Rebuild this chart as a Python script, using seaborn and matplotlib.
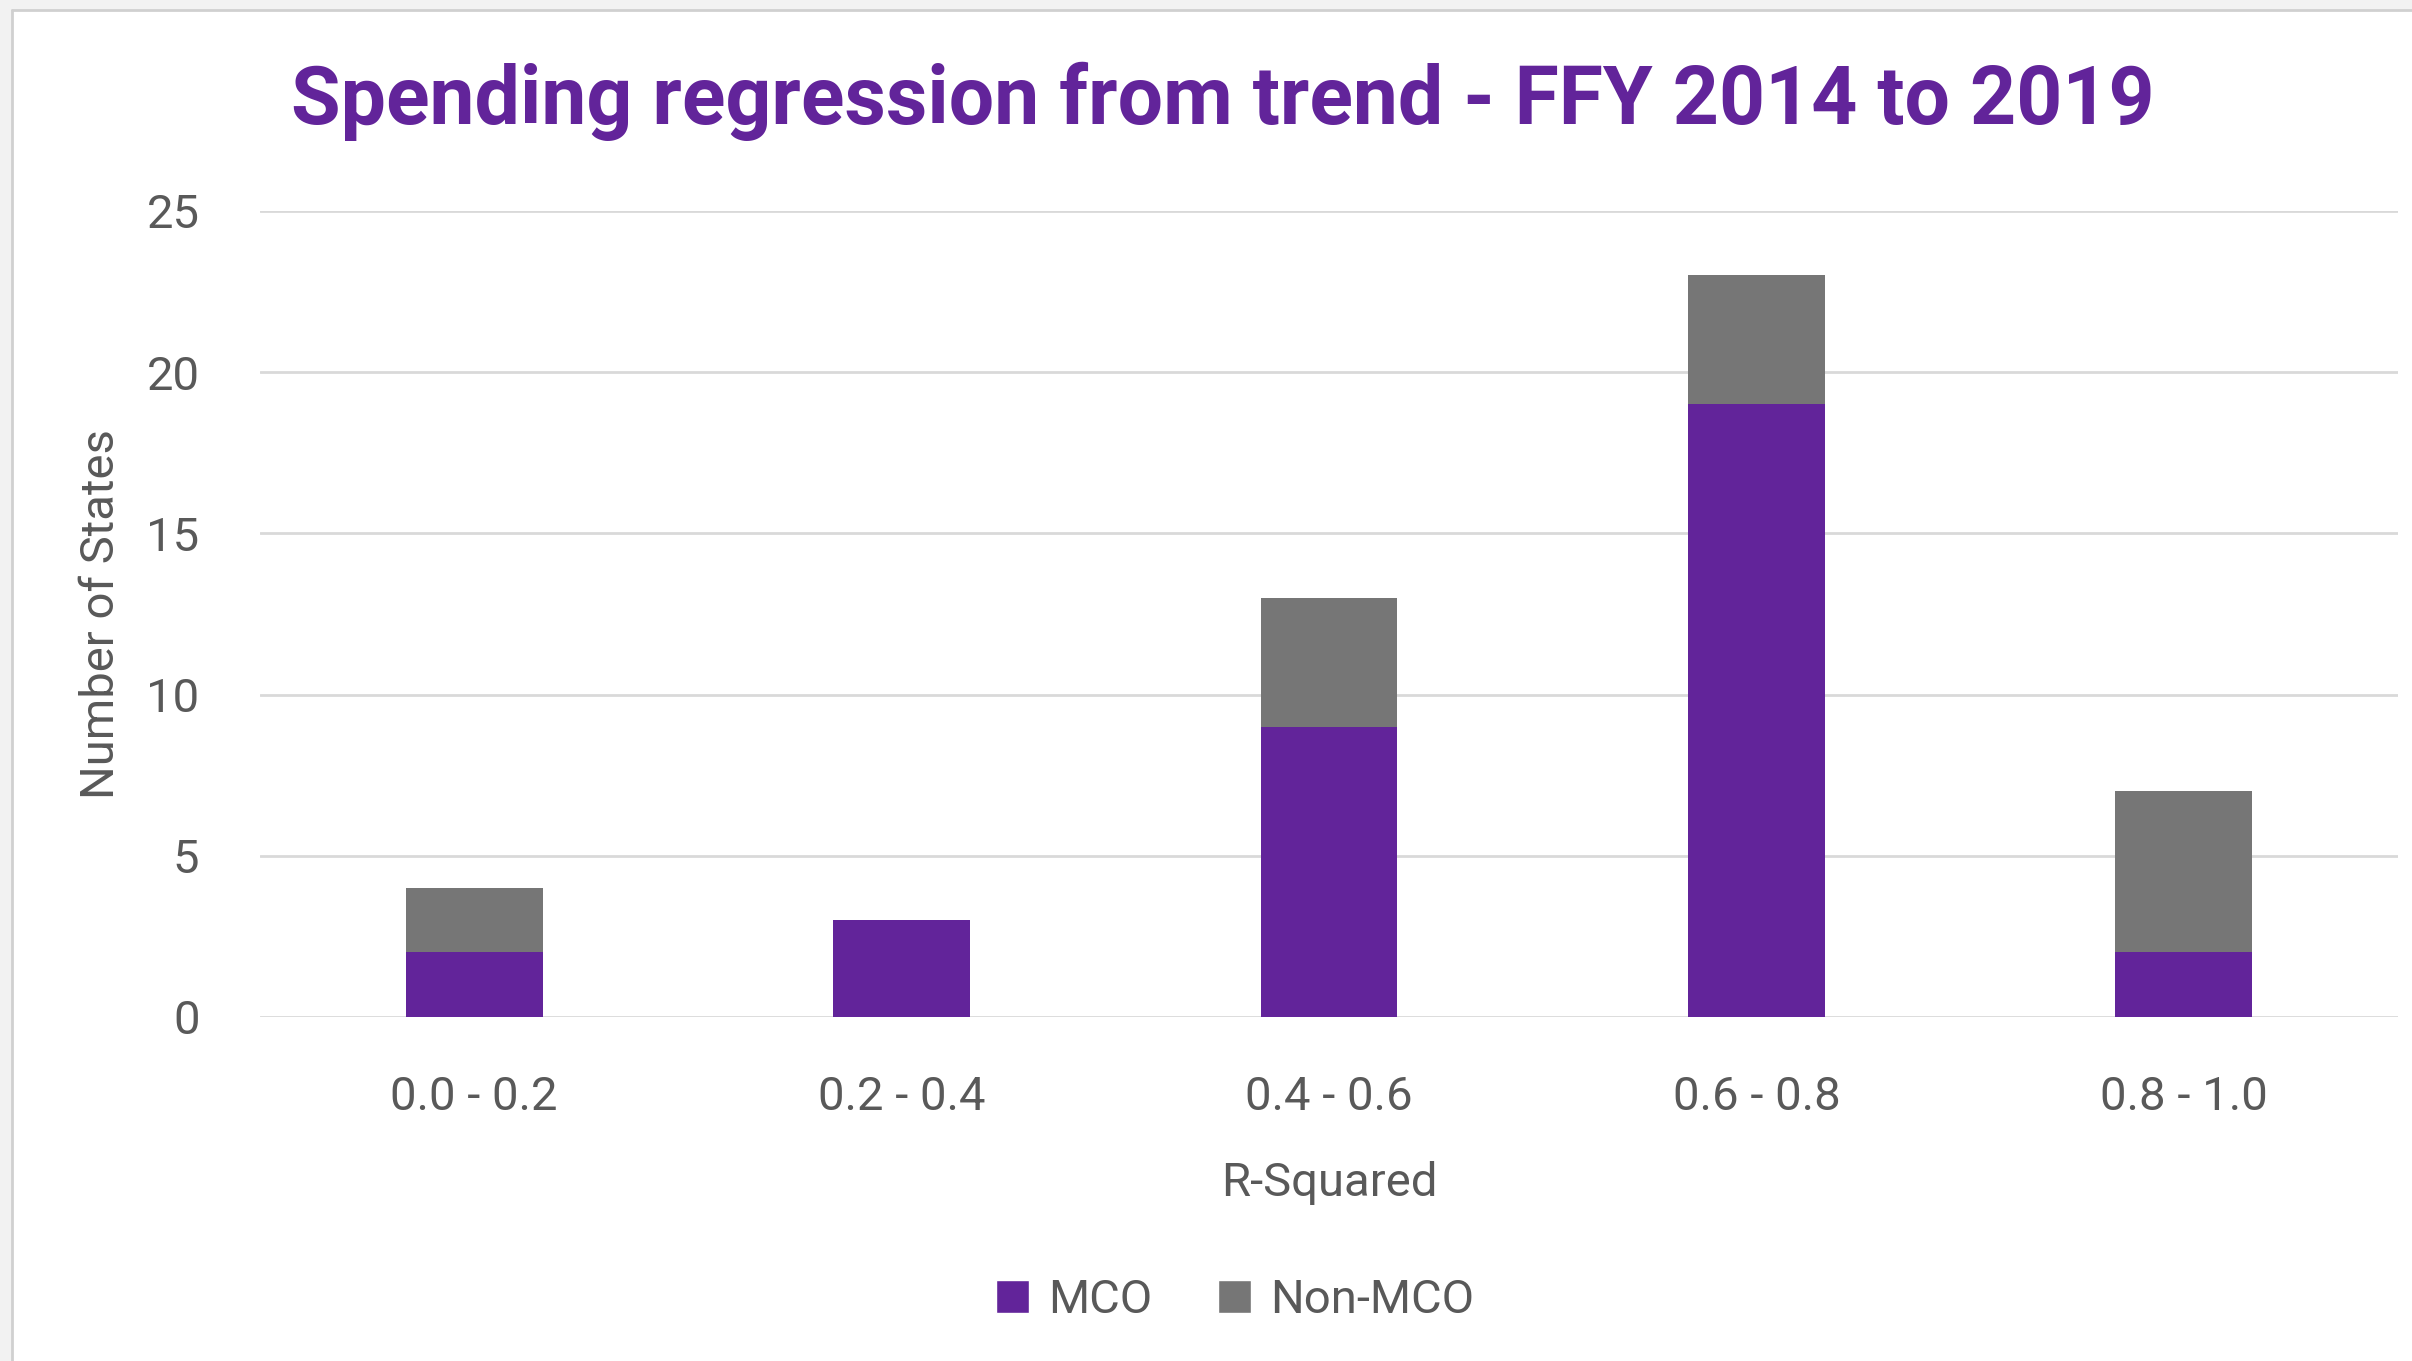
"""Stacked bar chart: R-squared of spending regression, MCO vs non-MCO states."""
import matplotlib

matplotlib.use("Agg")
import matplotlib.pyplot as plt
from matplotlib.patches import Patch, Rectangle
import pandas as pd
import seaborn as sns

# data
r2_bins = ["0.0 - 0.2", "0.2 - 0.4", "0.4 - 0.6", "0.6 - 0.8", "0.8 - 1.0"]
mco = [2, 3, 9, 19, 2]
non_mco = [2, 0, 4, 4, 5]
y_ticks = [0, 5, 10, 15, 20, 25]

PURPLE = "#62249A"
GREY = "#767676"
TEXT = "#595959"

sns.set_theme(style="white")
plt.rcParams["font.family"] = ["Roboto", "DejaVu Sans"]

df = pd.DataFrame({"bin": r2_bins, "MCO": mco, "Non-MCO": non_mco})
df["total"] = df["MCO"] + df["Non-MCO"]

fig = plt.figure(figsize=(24.12, 13.61), dpi=100)
ax = fig.add_axes([0.108, 0.2528, 0.886, 0.5922])

# stacked: full height in grey, MCO drawn over it from zero
sns.barplot(data=df, x="bin", y="total", color=GREY, width=0.32, saturation=1,
            linewidth=0, ax=ax)
sns.barplot(data=df, x="bin", y="MCO", color=PURPLE, width=0.32, saturation=1,
            linewidth=0, ax=ax)

ax.set_ylim(0, 25)
ax.set_yticks(y_ticks)
ax.yaxis.grid(True, color="#d9d9d9", lw=2)
ax.set_axisbelow(True)
for s in ax.spines.values():
    s.set_visible(False)
ax.tick_params(axis="both", length=0, labelsize=34, colors=TEXT)
ax.tick_params(axis="y", pad=44)
ax.tick_params(axis="x", pad=42)

ax.set_xlabel("R-Squared", fontsize=34, color=TEXT, labelpad=30)
ax.set_ylabel("Number of States", fontsize=34, color=TEXT, labelpad=17)

fig.text(0.507, 0.955, "Spending regression from trend - FFY 2014 to 2019",
         ha="center", va="top", fontsize=58, fontweight="bold", color=PURPLE)

handles = [Patch(facecolor=PURPLE, label="MCO"), Patch(facecolor=GREY, label="Non-MCO")]
fig.legend(handles=handles, loc="center", bbox_to_anchor=(0.512, 0.045), ncol=2,
           frameon=False, fontsize=34, labelcolor=TEXT, handlelength=0.7,
           handleheight=0.7, handletextpad=0.4, columnspacing=1.4)

# light frame on the left and top, as in the source screenshot
fig.patches.append(Rectangle((0, 0), 0.005, 1, transform=fig.transFigure,
                             facecolor="#f2f2f2", edgecolor="none"))
fig.patches.append(Rectangle((0, 0.993), 1, 0.007, transform=fig.transFigure,
                             facecolor="#f2f2f2", edgecolor="none"))
fig.lines.append(plt.Line2D([0.005, 0.005], [0, 0.993], transform=fig.transFigure,
                            color="#d0d0d0", lw=2))
fig.lines.append(plt.Line2D([0.005, 1], [0.993, 0.993], transform=fig.transFigure,
                            color="#d0d0d0", lw=2))

fig.savefig("out.png", dpi=100)
plt.close(fig)
